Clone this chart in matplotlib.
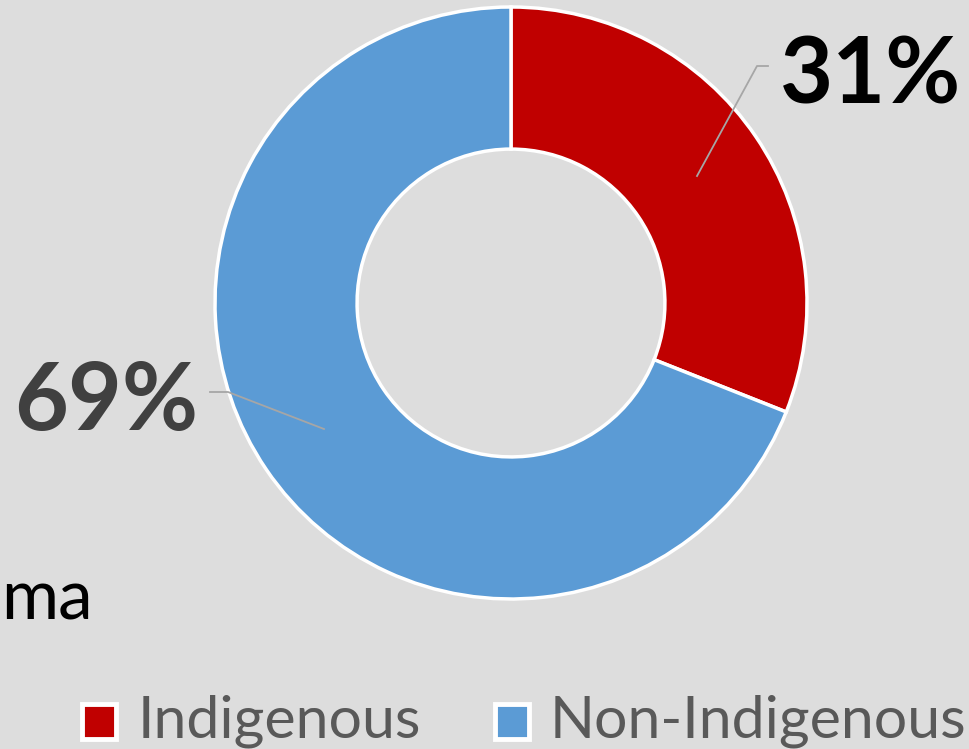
import matplotlib.pyplot as plt
from matplotlib.patches import Rectangle

labels = ['Indigenous', 'Non-Indigenous']
shares = [31, 69]
colors = ['#c00000', '#5b9bd5']
pct_labels = ['31%', '69%']

BG = '#dddddd'
plt.rcParams['font.family'] = ['Lato', 'DejaVu Sans']

fig = plt.figure(figsize=(9.70, 7.49), dpi=100)
fig.patch.set_facecolor(BG)

# donut axes: centre (511, 303) px, outer radius 296 px
W, H = 970, 749
cx, cy, r = 511, 303, 296
ax = fig.add_axes([(cx - r) / W, (H - cy - r) / H, 2 * r / W, 2 * r / H])
ax.set_facecolor(BG)

wedges, _ = ax.pie(shares, colors=colors, startangle=90, counterclock=False,
                   radius=1.0,
                   wedgeprops=dict(width=0.48, edgecolor='white', linewidth=2.5))
ax.set_xlim(-1, 1)
ax.set_ylim(-1, 1)
ax.set_aspect('equal')
ax.axis('off')

# leader lines (figure pixel coords converted to axes data)
def px(x, y):
    return ((x - cx) / r, (cy - y) / r)

for pts in [[px(697, 176), px(757, 66), px(768, 66)],
            [px(324, 429), px(228, 392), px(210, 392)]]:
    xs, ys = zip(*pts)
    ax.plot(xs, ys, color='#a6a6a6', lw=1.3, clip_on=False)

fig.text(780 / W, 1 - 103 / H, pct_labels[0], fontsize=66, fontweight='bold',
         color='black', ha='left', va='baseline')
fig.text(198 / W, 1 - 430 / H, pct_labels[1], fontsize=67, fontweight='bold',
         color='#404040', ha='right', va='baseline')

fig.text(1 / W, 1 - 620 / H, 'ma', fontsize=50, color='black',
         ha='left', va='baseline')

# legend, laid out by hand: square then label
sq_x = [82, 495]
txt_x = [138, 550]
for c, lab, sx, tx in zip(colors, labels, sq_x, txt_x):
    fig.add_artist(Rectangle((sx / W, 1 - 739 / H), 34 / W, 35 / H,
                             transform=fig.transFigure, facecolor=c,
                             edgecolor='white', linewidth=3.5))
    fig.text(tx / W, 1 - 738 / H, lab, fontsize=42.5, color='#595959',
             ha='left', va='baseline')

fig.savefig('out.png', dpi=100, facecolor=BG)
